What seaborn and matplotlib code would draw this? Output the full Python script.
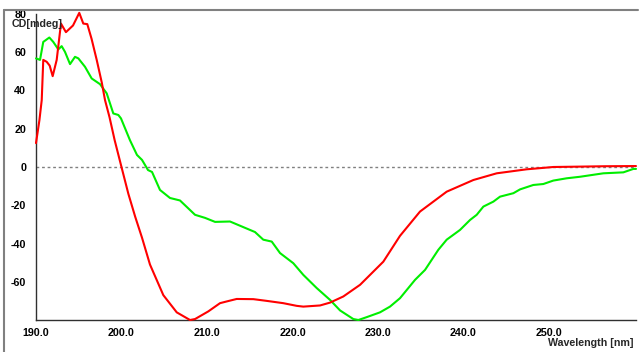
import matplotlib
matplotlib.use("Agg")
import matplotlib.pyplot as plt
import seaborn as sns
import pandas as pd
from matplotlib.lines import Line2D
from matplotlib.patches import Rectangle

wl_red = [190.0, 190.4, 190.67, 190.85, 191.25, 191.6, 191.95, 192.42, 192.92, 193.5,
          194.33, 195.06, 195.53, 196.0, 196.5, 197.1, 197.7, 198.07, 198.6, 199.2,
          199.94, 200.8, 201.6, 202.4, 203.33, 204.89, 206.46, 208.01, 208.6, 210.15,
          211.52, 212.3, 213.47, 215.42, 216.98, 218.92, 220.49, 221.26, 223.22, 224.39,
          225.94, 227.9, 230.62, 232.57, 234.91, 238.03, 241.15, 243.88, 247.39, 250.5,
          253.63, 256.5, 260.17]
cd_red = [12.5, 24.5, 35, 56, 55, 53, 47.5, 56, 75, 70.5,
          74, 80.6, 75, 74.7, 67, 56, 44, 35, 26, 14,
          1, -14, -26, -37, -51, -67, -76, -80, -79.5, -75.5,
          -71.2, -70.3, -69, -69.1, -70, -71.2, -72.6, -73, -72.4, -70.9,
          -67.7, -61.6, -49.5, -36, -23.3, -12.9, -6.8, -3.3, -1.2, 0,
          0.2, 0.4, 0.5]

wl_green = [190.0, 190.47, 190.85, 191.56, 192.02, 192.61, 193.0, 193.39, 193.98, 194.56,
            194.95, 195.73, 196.51, 197.49, 198.27, 199.04, 199.63, 199.94, 200.99, 201.81,
            202.4, 203.1, 203.57, 204.5, 205.67, 206.84, 208.6, 209.77, 210.94, 212.69,
            214.44, 215.61, 216.58, 217.57, 218.54, 220.09, 221.26, 222.83, 224.39, 225.56,
            227.11, 227.7, 228.68, 230.23, 231.4, 232.57, 234.33, 235.5, 237.05, 238.03,
            239.59, 240.76, 241.54, 242.32, 243.49, 244.27, 245.83, 246.61, 248.16, 249.33,
            250.5, 252.07, 253.63, 256.35, 258.69, 259.86, 260.17]
cd_green = [56.8, 56, 65.4, 67.7, 65.4, 61.5, 63.2, 60.2, 53.8, 57.6,
            56.8, 52.4, 46.3, 43.3, 38.5, 28, 27.2, 25.4, 14, 6.3,
            3.7, -1.6, -2.6, -12, -16.2, -17.5, -25, -26.6, -28.7, -28.5,
            -31.8, -34, -38, -39, -45, -50.3, -56.4, -63.3, -69.5, -75,
            -79.5, -80, -78.5, -76, -73, -68.6, -59, -53.8, -43.3, -38,
            -32.9, -27.7, -25, -20.7, -18.1, -15.5, -13.7, -11.7, -9.4, -8.9,
            -7.1, -5.9, -5.1, -3.3, -2.8, -1, -1]

x_ticks = [190, 200, 210, 220, 230, 240, 250]
y_ticks = [-60, -40, -20, 0, 20, 40, 60, 80]

sns.set_style("white")
plt.rcParams["font.family"] = ["Liberation Sans", "DejaVu Sans"]
plt.rcParams["font.weight"] = "bold"

fig = plt.figure(figsize=(6.39, 3.52), dpi=100)
W, H = 639, 352
ax = fig.add_axes([36 / W, 1 - 320 / H, 600 / W, 306 / H])

df_red = pd.DataFrame({"wl": wl_red, "cd": cd_red})
df_green = pd.DataFrame({"wl": wl_green, "cd": cd_green})

ax.axhline(0, color="#808080", lw=1.0, ls=(0, (2, 2)), zorder=1)
sns.lineplot(data=df_green, x="wl", y="cd", ax=ax, color="#00ee00", lw=1.5,
             sort=False, estimator=None, zorder=3, clip_on=False)
sns.lineplot(data=df_red, x="wl", y="cd", ax=ax, color="#ff0000", lw=1.5,
             sort=False, estimator=None, zorder=4, clip_on=False)

ax.set_xlim(190, 260.17)
ax.set_ylim(-80, 80)
ax.set_xticks(x_ticks)
ax.set_xticklabels([f"{v:.1f}" for v in x_ticks], fontsize=7.7, fontweight="bold")
ax.set_yticks(y_ticks)
ax.set_yticklabels([str(v) for v in y_ticks], fontsize=7.7, fontweight="bold")
ax.set_xlabel("")
ax.set_ylabel("")
for s in ["top", "right"]:
    ax.spines[s].set_visible(False)
for s in ["left", "bottom"]:
    ax.spines[s].set_color("#303030")
    ax.spines[s].set_linewidth(1.0)
ax.tick_params(axis="both", direction="inout", length=6, width=1, color="#303030",
               labelcolor="black")
ax.tick_params(axis="y", pad=4)
ax.tick_params(axis="x", pad=3)

fig.text(12 / W, 1 - 24 / H, "CD[mdeg]", fontsize=7.7, fontweight="bold",
         ha="left", va="center")
fig.text(634 / W, 1 - 343 / H, "Wavelength [nm]", fontsize=7.7, fontweight="bold",
         ha="right", va="center")

# white mask above top frame line, then frame lines
fig.add_artist(Rectangle((0, 1 - 10 / H), 1, 10 / H, transform=fig.transFigure,
                         facecolor="white", edgecolor="none", zorder=10))
fig.add_artist(Line2D([4 / W, 638 / W], [1 - 10 / H, 1 - 10 / H],
                      transform=fig.transFigure, color="#808080", lw=1.5, zorder=11))
fig.add_artist(Line2D([4 / W, 4 / W], [1 - 10 / H, 0],
                      transform=fig.transFigure, color="#808080", lw=1.5, zorder=11))

fig.savefig("out.png", dpi=100)
